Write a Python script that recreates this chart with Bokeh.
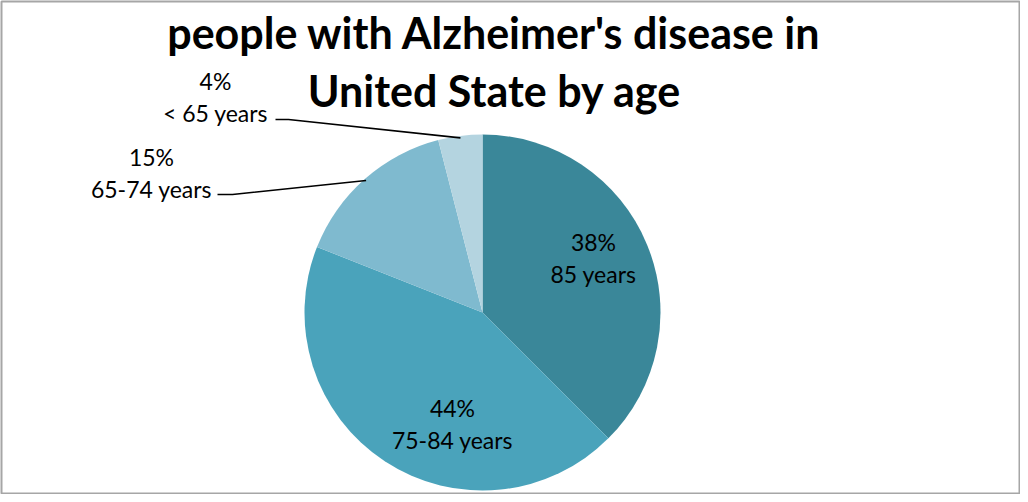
import math
from bokeh.plotting import figure
from bokeh.models import Range1d, ColumnDataSource
from bokeh.core.properties import value
from bokeh.embed import file_html
from bokeh.resources import INLINE

# ---- data ----
categories = ["85 years", "75-84 years", "65-74 years", "< 65 years"]
shares = [0.375, 0.435, 0.15, 0.04]
pct_labels = ["38%", "44%", "15%", "4%"]
colors = ["#3a8799", "#4aa3bb", "#7fbacf", "#b4d4e0"]
title_lines = ["people with Alzheimer's disease in", "United State by age"]

W, H = 1020, 494
OX, OY = 9, 9          # page offset of the frame
FW, FH = W - 1, H - 1  # frame size


def X(px):
    return px - OX


def Y(py):
    return (OY + FH) - py


p = figure(width=W, height=H, output_backend="svg", toolbar_location=None,
           x_range=Range1d(0, FW), y_range=Range1d(0, FH),
           min_border_left=1, min_border_top=1, min_border_right=0, min_border_bottom=0)
p.axis.visible = False
p.grid.visible = False
p.outline_line_color = "#a6a6a6"
p.outline_line_width = 2
p.background_fill_color = "white"

cx, cy, R = X(490), Y(320), 178

starts, ends, mids = [], [], []
cum = 0.0
for s in shares:
    a0 = math.pi / 2 - 2 * math.pi * cum
    a1 = math.pi / 2 - 2 * math.pi * (cum + s)
    starts.append(a0)
    ends.append(a1)
    mids.append((a0 + a1) / 2)
    cum += s

src = ColumnDataSource(dict(x=[cx] * 4, y=[cy] * 4, start=starts, end=ends, color=colors))
p.wedge(x="x", y="y", radius=R, start_angle="start", end_angle="end", direction="clock",
        fill_color="color", line_color=None, source=src)

font = value("Lato")
FS = "23px"


def label(i, lx, base):
    p.text(x=[X(lx)], y=[Y(base)], text=[pct_labels[i]], text_font=font, text_font_size=FS,
           text_align="center", text_baseline="alphabetic", text_color="black")
    p.text(x=[X(lx)], y=[Y(base + 32)], text=[categories[i]], text_font=font, text_font_size=FS,
           text_align="center", text_baseline="alphabetic", text_color="black")


# inside labels (first two slices)
label(0, 601, 249)
label(1, 460, 415)

# outside labels with leader lines (last two slices)
outside = {2: (159, 164, 225, 240, 202), 3: (223, 88, 283, 296, 127)}
for i, (lx, base, lstart, lbend, ly) in outside.items():
    label(i, lx, base)
    ex = cx + (R - 2) * math.cos(mids[i])
    ey = cy + (R - 2) * math.sin(mids[i])
    p.line(x=[X(lstart), X(lbend), ex], y=[Y(ly), Y(ly), ey], line_color="black", line_width=1.6)

# title
for k, t in enumerate(title_lines):
    p.text(x=[X(502)], y=[Y(40 + 58 * k)], text=[t], text_font=font, text_font_size="43px",
           text_font_style="bold", text_align="center", text_baseline="alphabetic", text_color="black")

open("out.html", "w").write(file_html(p, INLINE))
